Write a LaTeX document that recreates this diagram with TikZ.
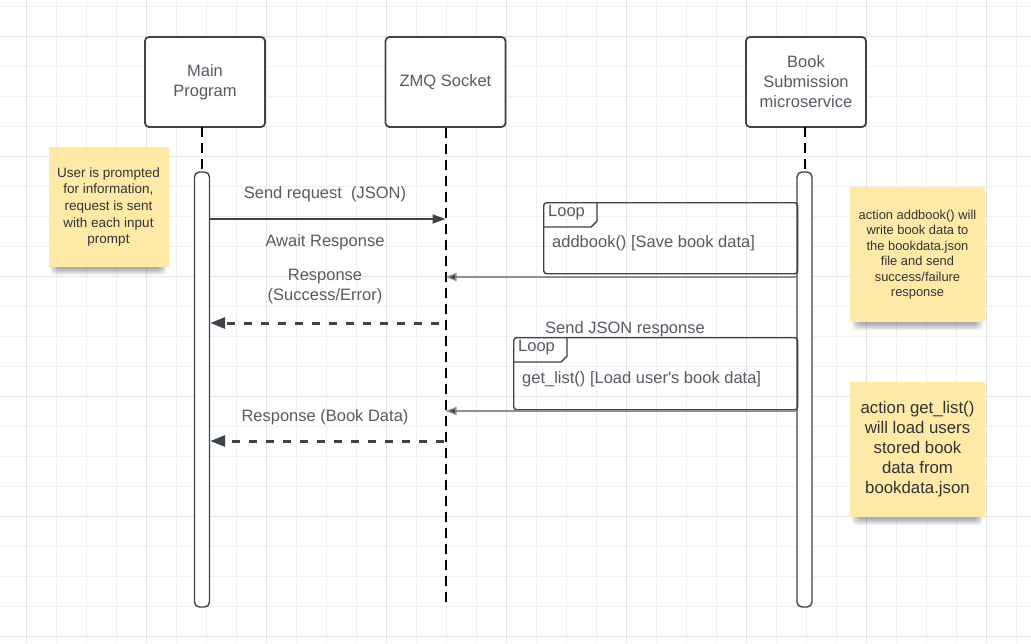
\documentclass[tikz,border=0pt]{standalone}
\usepackage{fontspec}
\setmainfont{Liberation Sans}
\usepackage{tikz}
\usetikzlibrary{arrows.meta,backgrounds,calc}
\definecolor{edgegray}{HTML}{3D434B}
\definecolor{labelgray}{HTML}{555B64}
\definecolor{replygray}{HTML}{8C9198}
\definecolor{noteyellow}{HTML}{FEEAA6}
\definecolor{notetext}{HTML}{333336}
\tikzstyle{gridline}=[draw=gray!12, line width=0.8pt]
\tikzstyle{gridmajor}=[draw=gray!22, line width=0.8pt]
\tikzstyle{participant}=[draw=edgegray, line width=1.8pt, rounded corners=4pt, fill=white, minimum width=120, minimum height=90, align=center, text=labelgray, font=\fontsize{16.5}{20}\selectfont]
\tikzstyle{activation}=[draw=edgegray, line width=1.4pt, rounded corners=5pt, fill=white, minimum width=15, minimum height=435, inner sep=0pt]
\tikzstyle{lifeline}=[black, line width=2pt, dash pattern=on 10pt off 6pt]
\tikzstyle{stickynote}=[fill=noteyellow, align=center, text=notetext, inner sep=0pt]
\tikzstyle{noteshadow}=[fill=black, opacity=0.05, rounded corners=5pt]
\tikzstyle{msglabel}=[text=labelgray, font=\fontsize{16.5}{20}\selectfont, align=center, inner sep=0pt]
\tikzstyle{request}=[edgegray, line width=1.8pt, -{Triangle[length=13pt,width=9pt]}]
\tikzstyle{reply}=[replygray, line width=1.4pt, -{Triangle[length=11pt,width=8pt,fill=edgegray]}]
\tikzstyle{response}=[edgegray, line width=3pt, dash pattern=on 8pt off 9pt, -{Triangle[length=15pt,width=11pt]}]
\tikzstyle{loopframe}=[draw=edgegray, line width=1.4pt, rounded corners=3pt, inner sep=0pt]
\tikzstyle{looptab}=[draw=edgegray, line width=1.4pt]

\begin{document}
\begin{tikzpicture}[x=1pt,y=-1pt]
	\useasboundingbox (0,0) rectangle (1031,643);
	\begin{scope}[on background layer]
		\fill[white] (0,0) rectangle (1031,643);
		\foreach \gx in {26,56,...,1016} \draw[gridline] (\gx,0) -- (\gx,643);
		\foreach \gy in {6,36,...,636} \draw[gridline] (0,\gy) -- (1031,\gy);
		\foreach \gx in {26,146,...,986} \draw[gridmajor] (\gx,0) -- (\gx,643);
		\foreach \gy in {36,156,...,636} \draw[gridmajor] (0,\gy) -- (1031,\gy);
	\end{scope}

	\node[participant] (main) at (205,82) {Main\\Program};
	\node[participant] (zmq) at (445.5,82) {ZMQ Socket};
	\node[participant] (book) at (806,82) {Book\\Submission\\microservice};
	\coordinate (zmqend) at (445.5,607);
	\draw[lifeline] (zmq.south) -- (zmqend);
	\draw[lifeline] (202,127) -- (202,173);
	\draw[lifeline] (805,127) -- (805,173);
	\node[activation] (mainbar) at (202,389.5) {};
	\node[activation] (bookbar) at (804.5,389.5) {};

	\node[stickynote, minimum width=120, minimum height=120, font=\fontsize{13.5}{16.7}\selectfont] (promptnote) at (108.5,207) {User is prompted\\for information,\\request is sent\\with each input\\prompt};
	\node[stickynote, minimum size=135, font=\fontsize{12.9}{15.5}\selectfont] (addnote) at (917.5,254.5) {action addbook() will\\write book data to\\the bookdata.json\\file and send\\success/failure\\response};
	\node[stickynote, minimum size=135, font=\fontsize{16.8}{20}\selectfont] (listnote) at (917.5,449.5) {action get\_list()\\will load users\\stored book\\data from\\bookdata.json};
	\begin{scope}[on background layer]
		\foreach \nt in {promptnote,addnote,listnote}
			\foreach \k in {0,...,6}
				\fill[noteshadow] ($(\nt.north west)+(8-\k,8)$) rectangle ($(\nt.south east)+(-8+\k,2+\k)$);
	\end{scope}

	\node[loopframe, minimum width=254, minimum height=71, anchor=north west] (loopadd) at (543,202) {};
	\draw[looptab] ($(loopadd.north west)+(0,25)$) -- ++(48,0) -- ++(6,-6) -- ++(0,-19);
	\node[msglabel, anchor=west] (addtab) at ($(loopadd.north west)+(5,11)$) {Loop};
	\node[msglabel, anchor=west] (addtext) at ($(loopadd.north west)+(9,41)$) {addbook() [Save book data]};

	\node[loopframe, minimum width=284, minimum height=72, anchor=north west] (looplist) at (513,337) {};
	\draw[looptab] ($(looplist.north west)+(0,25)$) -- ++(48,0) -- ++(6,-6) -- ++(0,-19);
	\node[msglabel, anchor=west] (listtab) at ($(looplist.north west)+(5,11)$) {Loop};
	\node[msglabel, anchor=west] (listtext) at ($(looplist.north west)+(9,42)$) {get\_list() [Load user\textquotesingle s book data]};

	\draw[request] (mainbar.east |- 0,219) -- (zmq.south |- 0,219);
	\draw[reply] (bookbar.west |- 0,277) -- (zmq.south |- 0,277);
	\draw[response, shorten <=7pt] (zmq.south |- 0,323) -- (mainbar.east |- 0,323);
	\draw[reply] (bookbar.west |- 0,411) -- (zmq.south |- 0,411);
	\draw[response, shorten <=2pt] (zmq.south |- 0,441) -- (mainbar.east |- 0,441);

	\node[msglabel] (reqlabel) at (325,194) {Send request\ \ (JSON)};
	\node[msglabel] (awaitlabel) at (325,242) {Await Response};
	\node[msglabel] (resplabel) at (325,287) {Response\\(Success/Error)};
	\node[msglabel] (jsonlabel) at (625,329) {Send JSON response};
	\node[msglabel] (booklabel) at (325,417) {Response (Book Data)};
\end{tikzpicture}
\end{document}
